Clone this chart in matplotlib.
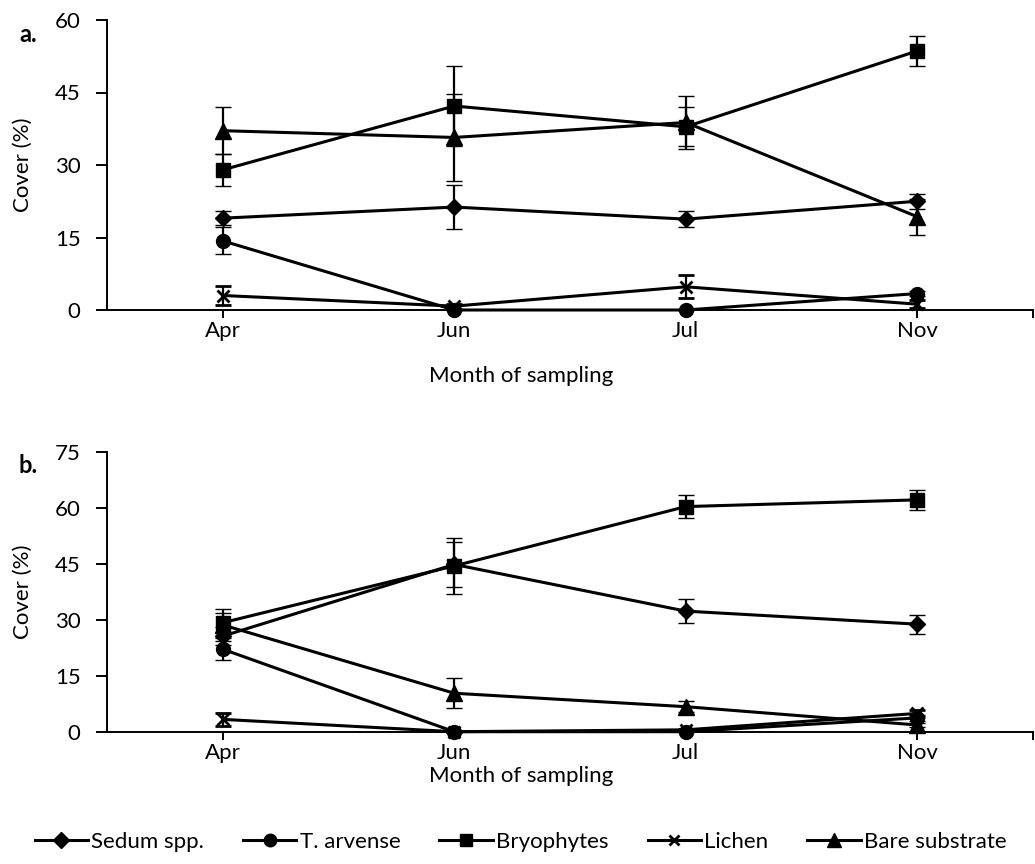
import matplotlib
matplotlib.use("Agg")
import matplotlib.pyplot as plt
from matplotlib.lines import Line2D
import numpy as np

plt.rcParams['font.family'] = ['Lato', 'DejaVu Sans']

months = ["Apr", "Jun", "Jul", "Nov"]
series_names = ["Sedum spp.", "T. arvense", "Bryophytes", "Lichen", "Bare substrate"]
markers = ["D", "o", "s", "x", "^"]
marker_sizes = [8.5, 10, 9.5, 8, 11]

# Panel a: mean cover and error
a_sedum = [19.0, 21.3, 18.8, 22.5]
a_sedum_err = [1.5, 4.5, 1.6, 1.6]
a_tarvense = [14.3, 0.0, 0.0, 3.4]
a_tarvense_err = [2.8, 0.0, 0.0, 0.5]
a_bryo = [29.0, 42.2, 37.9, 53.6]
a_bryo_err = [3.3, 8.3, 4.0, 3.1]
a_lichen = [3.0, 0.8, 4.8, 1.2]
a_lichen_err = [2.0, 0.5, 2.4, 0.8]
a_bare = [37.1, 35.7, 38.8, 19.3]
a_bare_err = [4.9, 9.0, 5.4, 3.7]

# Panel b: mean cover and error
b_sedum = [25.6, 44.8, 32.3, 28.8]
b_sedum_err = [2.5, 6.0, 3.3, 2.5]
b_tarvense = [22.1, 0.0, 0.0, 3.7]
b_tarvense_err = [3.0, 0.0, 0.0, 0.8]
b_bryo = [29.2, 44.4, 60.3, 62.1]
b_bryo_err = [2.6, 7.6, 3.1, 2.7]
b_lichen = [3.3, 0.0, 0.5, 4.9]
b_lichen_err = [1.8, 0.0, 0.3, 1.0]
b_bare = [28.6, 10.3, 6.7, 1.8]
b_bare_err = [4.4, 4.0, 1.5, 0.6]

panel_a = [(a_sedum, a_sedum_err), (a_tarvense, a_tarvense_err), (a_bryo, a_bryo_err),
           (a_lichen, a_lichen_err), (a_bare, a_bare_err)]
panel_b = [(b_sedum, b_sedum_err), (b_tarvense, b_tarvense_err), (b_bryo, b_bryo_err),
           (b_lichen, b_lichen_err), (b_bare, b_bare_err)]

W, H = 1035, 864
FS = 16
fig = plt.figure(figsize=(W / 100, H / 100), dpi=100)

def px_axes(left, top, right, bottom):
    return fig.add_axes([left / W, 1 - bottom / H, (right - left) / W, (bottom - top) / H])

ax_a = px_axes(107, 20, 1033, 310)
ax_b = px_axes(107, 451.7, 1033, 731.7)

x = np.arange(len(months))
for ax, data, ymax, label, xlab_pad in [(ax_a, panel_a, 60, "a.", 18), (ax_b, panel_b, 75, "b.", 2)]:
    for (vals, errs), m, ms, name in zip(data, markers, marker_sizes, series_names):
        ax.errorbar(x, vals, yerr=errs, color="black", lw=2.2, marker=m, ms=ms,
                    mew=2.0 if m == "x" else 1, capsize=5.5, capthick=1.6,
                    elinewidth=1.6, clip_on=False, zorder=3)
    ax.set_xlim(-0.5, 3.5)
    ax.set_ylim(0, ymax)
    ax.set_yticks(np.arange(0, ymax + 1, 15))
    ax.set_xticks(x)
    ax.set_xticklabels(months)
    ax.set_xticks([3.5], minor=True)
    for s in ["top", "right"]:
        ax.spines[s].set_visible(False)
    for s in ["left", "bottom"]:
        ax.spines[s].set_linewidth(1.4)
    ax.tick_params(axis="y", direction="out", length=8, width=1.4, labelsize=FS, pad=11)
    ax.tick_params(axis="x", which="both", direction="out", length=6, width=1.4,
                   labelsize=FS, pad=2)
    ax.set_ylabel("Cover (%)", fontsize=FS, labelpad=16)
    ax.set_xlabel("Month of sampling", fontsize=FS, labelpad=xlab_pad)
    ax.xaxis.label.set_x((521 - 107) / (1033 - 107))
    ax.text(-0.085, 0.95, label, transform=ax.transAxes, fontsize=17, fontweight="bold",
            ha="center", va="center")

handles = [Line2D([0], [0], color="black", lw=2.2, marker=m, ms=ms * 0.9,
                  mew=2.0 if m == "x" else 1) for m, ms in zip(markers, marker_sizes)]
fig.legend(handles, series_names, loc="center", bbox_to_anchor=(0.503, 1 - 842 / H),
           ncol=5, frameon=False, fontsize=FS, handlelength=2.4, handletextpad=0.15,
           columnspacing=1.75)

fig.savefig("out.png", dpi=100)
